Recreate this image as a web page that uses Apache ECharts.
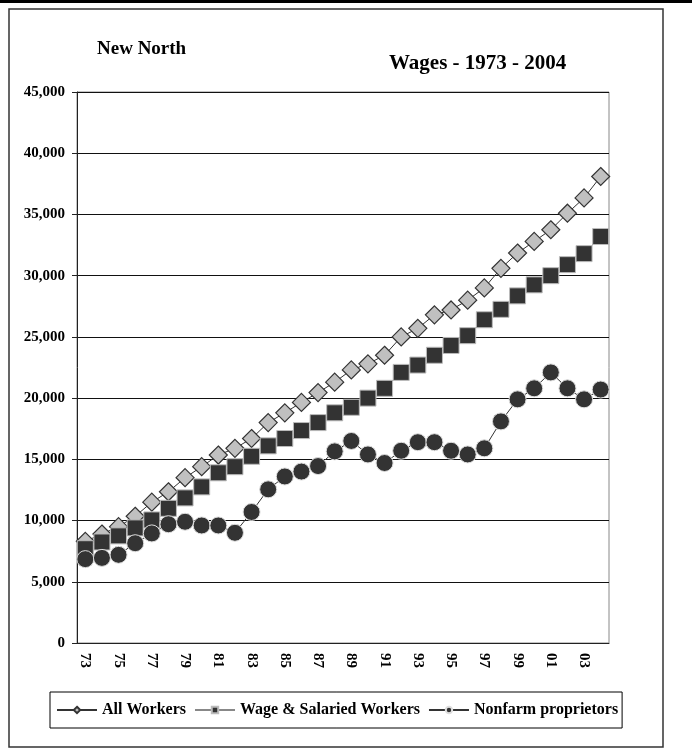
<!DOCTYPE html>
<html>
<head>
<meta charset="utf-8">
<title>New North Wages 1973 - 2004</title>
<script src="https://cdn.jsdelivr.net/npm/echarts@6/dist/echarts.min.js"></script>
<style>
  html, body { margin: 0; padding: 0; background: #fff; }
  #chart { width: 692px; height: 752px; }
</style>
</head>
<body>
<div id="chart"></div>
<script>
// years 1973 - 2004, shown as two digits
const years = [
  "73", "74", "75", "76", "77", "78", "79", "80", "81", "82", "83",
  "84", "85", "86", "87", "88", "89", "90", "91", "92", "93", "94",
  "95", "96", "97", "98", "99", "00", "01", "02", "03", "04",
];

const allWorkers = [
  8300, 8900, 9500, 10350, 11500, 12350, 13500, 14400, 15350, 15900, 16700,
  18000, 18800, 19650, 20450, 21300, 22300, 22800, 23500, 25000, 25700, 26800,
  27200, 28000, 29000, 30600, 31850, 32800, 33750, 35100, 36350, 38100,
];

const wageSalaried = [
  7700, 8250, 8750, 9400, 10050, 11000, 11850, 12750, 13900, 14400, 15250,
  16100, 16700, 17350, 18000, 18800, 19250, 20000, 20800, 22100, 22700, 23500,
  24300, 25100, 26400, 27250, 28350, 29250, 30000, 30900, 31800, 33200,
];

const nonfarm = [
  6850, 6950, 7200, 8150, 8950, 9700, 9900, 9600, 9600, 9000, 10700,
  12550, 13600, 14000, 14450, 15650, 16500, 15400, 14700, 15700, 16400, 16400,
  15700, 15400, 15900, 18100, 19900, 20800, 22100, 20800, 19900, 20700,
];

const serif = "Liberation Serif";

const chart = echarts.init(document.getElementById("chart"), null, { renderer: "canvas" });

const option = {
  backgroundColor: "#fff",
  animation: false,
  title: [
    {
      text: "New North",
      left: 92,
      top: 35,
      textStyle: { fontFamily: serif, fontWeight: "bold", fontSize: 19, color: "#000" },
    },
    {
      text: "Wages - 1973 - 2004",
      left: 384,
      top: 48,
      textStyle: { fontFamily: serif, fontWeight: "bold", fontSize: 21, color: "#000" },
    },
  ],
  // outer frame + the heavy line on top
  graphic: [
    {
      type: "rect",
      shape: { x: 0, y: 0, width: 692, height: 3 },
      style: { fill: "#000" },
    },
    {
      type: "rect",
      shape: { x: 9, y: 9, width: 654, height: 738 },
      style: { fill: "none", stroke: "#333", lineWidth: 1.5 },
    },
  ],
  legend: {
    left: 50,
    top: 692,
    width: 580,
    padding: [10, 4, 10, 6],
    itemGap: 8,
    itemWidth: 40,
    itemHeight: 8,
    borderColor: "#000",
    borderWidth: 1,
    textStyle: { fontFamily: serif, fontWeight: "bold", fontSize: 16, color: "#000" },
    data: ["All Workers", "Wage & Salaried Workers", "Nonfarm proprietors"],
  },
  grid: {
    left: 77,
    right: 83,
    top: 92,
    bottom: 109,
    show: true,
    borderColor: "#888",
    borderWidth: 1,
  },
  xAxis: {
    type: "category",
    data: years,
    boundaryGap: true,
    axisLine: { lineStyle: { color: "#222", width: 1 } },
    axisTick: { interval: 1, length: 5, lineStyle: { color: "#222" } },
    axisLabel: {
      interval: 1,
      rotate: -90,
      margin: 10,
      fontFamily: serif,
      fontWeight: "bold",
      fontSize: 15,
      color: "#000",
    },
  },
  yAxis: {
    type: "value",
    min: 0,
    max: 45000,
    interval: 5000,
    axisLine: { show: true, lineStyle: { color: "#222", width: 1 } },
    axisTick: { show: true, length: 5, lineStyle: { color: "#222" } },
    splitLine: { lineStyle: { color: "#111", width: 1 } },
    axisLabel: {
      margin: 12,
      fontFamily: serif,
      fontWeight: "bold",
      fontSize: 15,
      color: "#000",
      formatter: v => v.toLocaleString("en-US"),
    },
  },
  series: [
    {
      name: "All Workers",
      type: "line",
      data: allWorkers,
      symbol: "diamond",
      symbolSize: 18,
      showAllSymbol: true,
      lineStyle: { color: "#333", width: 1 },
      itemStyle: { color: "#c0c0c0", borderColor: "#333", borderWidth: 1.2 },
    },
    {
      name: "Wage & Salaried Workers",
      type: "line",
      data: wageSalaried,
      symbol: "rect",
      symbolSize: 16,
      showAllSymbol: true,
      lineStyle: { color: "#888", width: 1 },
      itemStyle: { color: "#333", borderColor: "#bbb", borderWidth: 1 },
    },
    {
      name: "Nonfarm proprietors",
      type: "line",
      data: nonfarm,
      symbol: "circle",
      symbolSize: 17,
      showAllSymbol: true,
      lineStyle: { color: "#333", width: 1 },
      itemStyle: { color: "#333", borderColor: "#ddd", borderWidth: 1 },
    },
  ],
};

chart.setOption(option);
</script>
</body>
</html>
